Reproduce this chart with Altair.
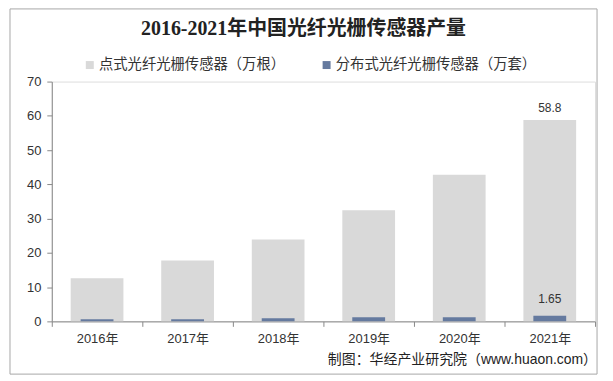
import altair as alt
import pandas as pd

years = ["2016年", "2017年", "2018年", "2019年", "2020年", "2021年"]
point_vals = [12.6, 17.8, 23.9, 32.4, 42.8, 58.8]
dist_vals = [0.6, 0.6, 0.9, 1.2, 1.2, 1.65]
series = ["点式光纤光栅传感器（万根）", "分布式光纤光栅传感器（万套）"]
title_text = "2016-2021年中国光纤光栅传感器产量"
source_text = "制图：华经产业研究院（www.huaon.com）"

FONT = "Liberation Sans, Noto Sans CJK SC"
GRAY = "#d9d9d9"
BLUE = "#657a9f"

rows = []
for y, p, d in zip(years, point_vals, dist_vals):
    rows.append({"year": y, "series": series[0], "value": p})
    rows.append({"year": y, "series": series[1], "value": d})
df = pd.DataFrame(rows)

xenc = alt.X("year:N", sort=years, title=None,
             scale=alt.Scale(paddingInner=0, paddingOuter=0),
             axis=alt.Axis(labelAngle=0, labelFont=FONT, labelFontSize=13, labelColor="#333",
                           domainColor="#888", tickColor="#888", tickBand="extent",
                           tickSize=5, labelPadding=6))
yenc = alt.Y("value:Q", title=None,
             scale=alt.Scale(domain=[0, 70], nice=False),
             axis=alt.Axis(values=list(range(0, 80, 10)), grid=False, labelFont=FONT,
                           labelFontSize=13, labelColor="#333", domainColor="#888",
                           tickColor="#888", tickSize=5, labelPadding=6, labelOverlap=False))
color = alt.Color("series:N", scale=alt.Scale(domain=series, range=[GRAY, BLUE]),
                  legend=alt.Legend(title=None, orient="none", direction="horizontal",
                                    legendX=31, legendY=-24, symbolType="square",
                                    symbolSize=64, symbolStrokeWidth=0, labelLimit=0,
                                    labelFont=FONT, labelFontSize=14.4, labelColor="#333",
                                    labelOffset=2, columnPadding=34, symbolOffset=0))

gray = alt.Chart(df).transform_filter(alt.datum.series == series[0]).mark_bar(size=53).encode(
    x=xenc, y=yenc, color=color)
blue = alt.Chart(df).transform_filter(alt.datum.series == series[1]).mark_bar(size=33).encode(
    x=xenc, y=yenc, color=color)

lab_df = pd.DataFrame({"year": [years[-1], years[-1]],
                       "value": [point_vals[-1], dist_vals[-1]],
                       "label": [str(point_vals[-1]), str(dist_vals[-1])]})
labels1 = alt.Chart(lab_df.iloc[[0]]).mark_text(font=FONT, fontSize=12, color="#333", dy=-12).encode(
    x=xenc, y=yenc, text="label:N")
labels2 = alt.Chart(lab_df.iloc[[1]]).mark_text(font=FONT, fontSize=12, color="#333").encode(
    x=xenc, y=alt.value(219), text="label:N")

one = pd.DataFrame({"a": [0]})
frame = alt.Chart(one).mark_rect(fill=None, stroke="#a6a6a6", strokeWidth=1, clip=False).encode(
    x=alt.value(-42), x2=alt.value(548), y=alt.value(-73), y2=alt.value(294))
title = alt.Chart(pd.DataFrame({"t": [title_text]})).mark_text(
    font="Liberation Serif, Noto Sans CJK SC", fontSize=20, fontWeight="bold", color="#222").encode(
    x=alt.value(253), y=alt.value(-53), text="t:N")
source = alt.Chart(pd.DataFrame({"t": [source_text]})).mark_text(
    font=FONT, fontSize=14, color="#222", align="right").encode(
    x=alt.value(548), y=alt.value(280), text="t:N")

chart = alt.layer(frame, gray, blue, labels1, labels2, title, source).properties(
    width=546, height=241,
    autosize=alt.AutoSizeParams(type="none"),
    padding={"left": 44, "top": 73, "right": 10, "bottom": 60},
).configure_view(stroke=None).configure(background="white")

chart.save("out.html", embed_options={"renderer": "svg", "actions": False})
